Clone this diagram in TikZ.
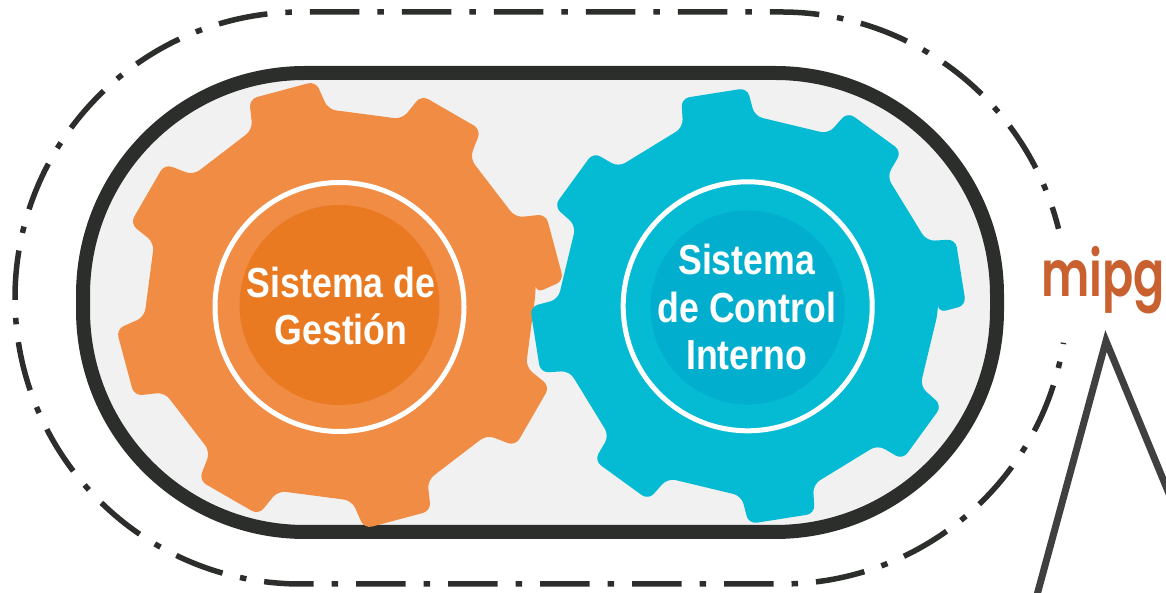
\documentclass[tikz,border=0pt]{standalone}
\usepackage{fontspec}
\setmainfont{Liberation Sans}
\newfontfamily\labelfont[FakeStretch=0.85]{Liberation Sans Bold}
\newfontfamily\logofont[FakeStretch=0.72]{Poppins SemiBold}
\definecolor{linedark}{HTML}{2C2E2B}
\definecolor{pillfill}{HTML}{F1F1F1}
\definecolor{gestionfill}{HTML}{F18C44}
\definecolor{gestiondisc}{HTML}{E97A22}
\definecolor{controlfill}{HTML}{05BBD3}
\definecolor{controldisc}{HTML}{01AECD}
\definecolor{logocolor}{HTML}{C8612F}
\definecolor{peakcolor}{HTML}{404040}
\begin{document}
\begin{tikzpicture}
[x=1pt,y=1pt,
  pilldecorate/.style={shape=rectangle,draw=linedark,fill=pillfill,line width=14pt,
    rounded corners=222pt,minimum width=914pt,minimum height=459pt,inner sep=0pt,outer sep=0pt},
  discdecorate/.style={shape=circle,inner sep=0pt,outer sep=0pt},
  ringdecorate/.style={shape=circle,draw=white,line width=5pt,inner sep=0pt,outer sep=0pt,minimum size=249pt},
  labeldecorate/.style={text=white,align=center,inner sep=0pt,
    font=\labelfont\fontsize{42}{47.7}\selectfont},
  orbitdecorate/.style={draw=linedark,line width=5.5pt,
    dash pattern=on 49.5pt off 18pt on 6.5pt off 18pt,dash phase=48.2pt},
  peakdecorate/.style={draw=peakcolor,line width=7pt,miter limit=10}]
\useasboundingbox (0,0) rectangle (1166,593);
%% dash-dot orbit
\path[orbitdecorate] ([shift={(781,295)}]-9:286) arc (-9:-90:286) -- (301,9)
  arc (270:90:286) -- (781,581) arc (90:14:286);
%% pill
\node (pill) at (540,290.5) [pilldecorate] {};
%% gears
\foreach \gearname/\x/\y/\turn/\rtop/\rroot/\htop/\hroot/\gearcolor in
  {gestion/340/288/15/225/196/8.8/11.5/gestionfill,
   control/748/287/9/218/190/8.8/11/controlfill}
{
  \fill[fill=\gearcolor,rounded corners=8pt,shift={(\x,\y)}] (\turn-\hroot:\rroot)
  \foreach \n in {0,...,7}
  {
    -- (\turn+45*\n-\hroot:\rroot) -- (\turn+45*\n-\htop:\rtop)
    -- (\turn+45*\n+\htop:\rtop) -- (\turn+45*\n+\hroot:\rroot)
  } -- cycle;
}
%% discs and rings
\node (discg) at (339.5,288) [discdecorate,fill=gestiondisc,minimum size=200pt] {};
\node (ringg) at (339.5,286) [ringdecorate] {};
\node (discc) at (747.5,285.5) [discdecorate,fill=controldisc,minimum size=194pt] {};
\node (ringc) at (747.7,286.7) [ringdecorate] {};
%% labels
\node (labelg) at (341,287) [labeldecorate] {Sistema de\\Gestión};
\node (labelc) at (746.7,286) [labeldecorate] {Sistema\\de Control\\Interno};
%% logo and peak
\node (logo) at (1103,296) [anchor=base,inner sep=0pt,text=logocolor,
  font=\logofont\fontsize{64}{64}\selectfont] {mipg};
\coordinate (peakleft) at (1037,-2);
\coordinate (peaktop) at (1106,252);
\coordinate (peakright) at (1172,92);
\path[peakdecorate] (peakleft) -- (peaktop) -- (peakright);
\end{tikzpicture}
\end{document}
